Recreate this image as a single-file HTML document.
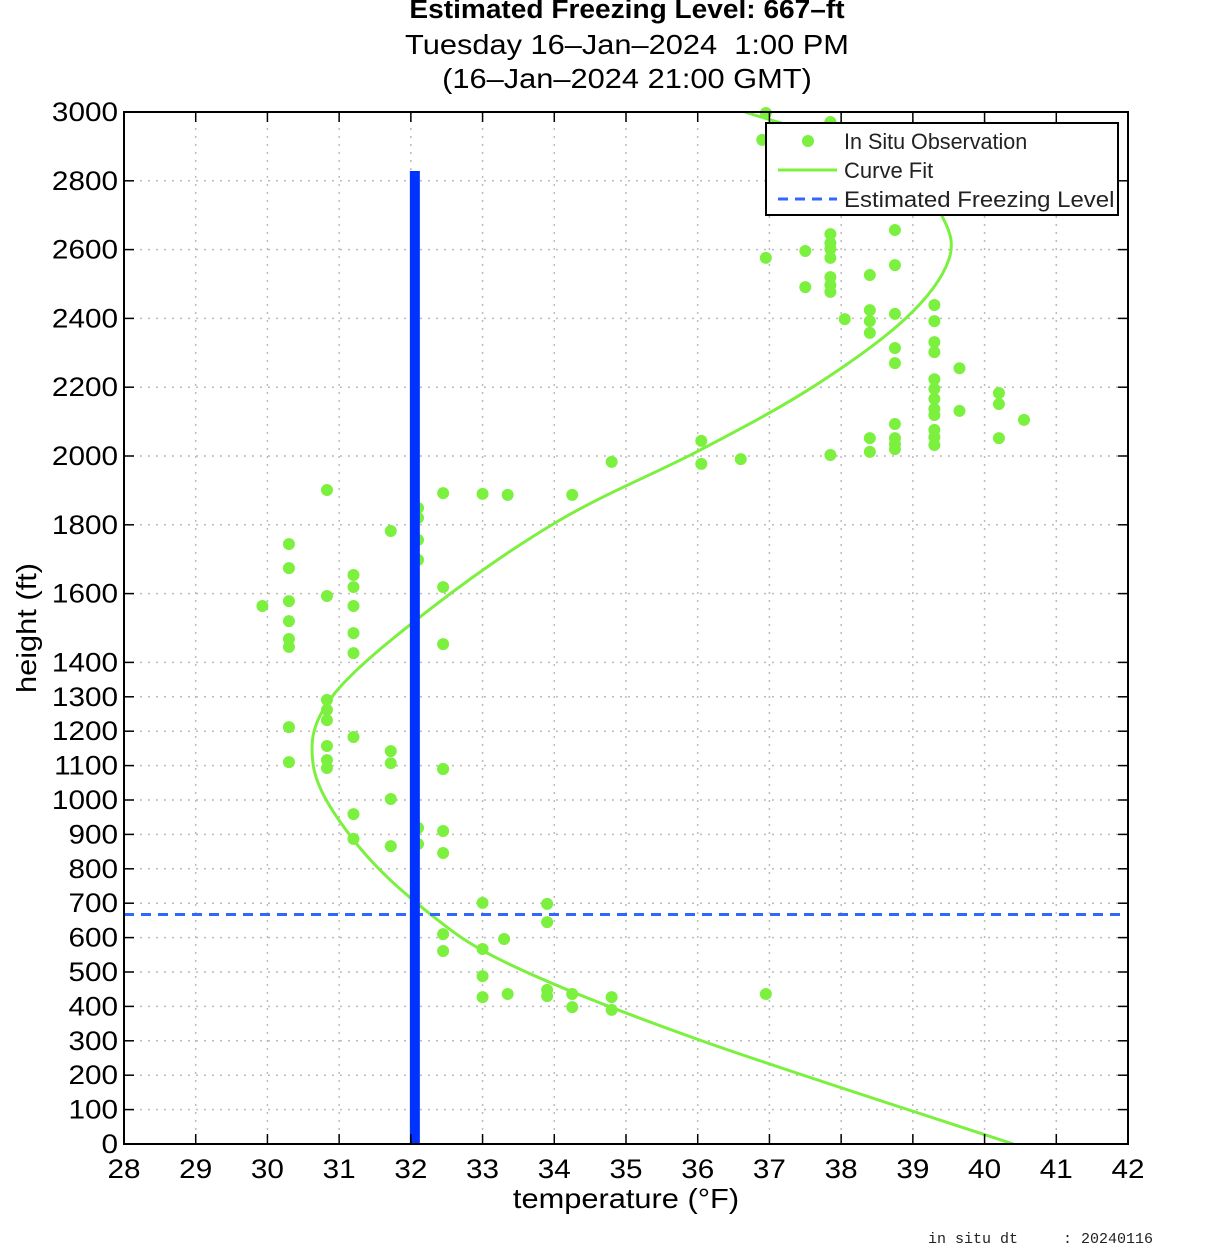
<!DOCTYPE html>
<html><head><meta charset="utf-8">
<style>
html,body{margin:0;padding:0;background:#fff;}
svg{display:block;font-family:"Liberation Sans",Arial,sans-serif;}
</style></head>
<body>
<svg id="chart" width="1214" height="1248" viewBox="0 0 1214 1248" xmlns="http://www.w3.org/2000/svg">
<g id="grid"></g>
<g id="series"></g>
<g id="axes"></g>
<text x="627" y="18" text-anchor="middle" font-size="26" font-weight="bold" transform="translate(627 0) scale(1.08 1) translate(-627 0)">Estimated Freezing Level: 667–ft</text>
<text x="627" y="54" text-anchor="middle" font-size="28" style="white-space:pre" transform="translate(627 0) scale(1.1 1) translate(-627 0)">Tuesday 16–Jan–2024  1:00 PM</text>
<text x="627" y="88" text-anchor="middle" font-size="28" transform="translate(627 0) scale(1.1 1) translate(-627 0)">(16–Jan–2024 21:00 GMT)</text>
<text x="626" y="1208" text-anchor="middle" font-size="28" transform="translate(626 0) scale(1.1 1) translate(-626 0)">temperature (°F)</text>
<text x="0" y="0" text-anchor="middle" font-size="28" transform="translate(36 628) rotate(-90) scale(1.1 1)">height (ft)</text>
<text x="928" y="1243" font-size="15" font-family="Liberation Mono, monospace" fill="#222" style="white-space:pre">in situ dt     : 20240116</text>
<g id="legend">
  <rect x="766" y="123" width="352" height="92" fill="#fff" stroke="#000" stroke-width="2"/>
  <g>
    <circle cx="808" cy="141" r="6" fill="#7cf03f"/>
    <text x="844" y="149" font-size="22" fill="#222" transform="translate(844 0) scale(0.98 1) translate(-844 0)">In Situ Observation</text>
  </g>
  <g>
    <line x1="778" y1="170" x2="837" y2="170" stroke="#7cf03f" stroke-width="3"/>
    <text x="844" y="178" font-size="22" fill="#222">Curve Fit</text>
  </g>
  <g>
    <line x1="778" y1="199" x2="837" y2="199" stroke="#3366ff" stroke-width="3" stroke-dasharray="10,7"/>
    <text x="844" y="207" font-size="22" fill="#222" transform="translate(844 0) scale(1.09 1) translate(-844 0)">Estimated Freezing Level</text>
  </g>
</g>
</svg>
<script>
const xTicks = [28,29,30,31,32,33,34,35,36,37,38,39,40,41,42];
const yTicks = [0,100,200,300,400,500,600,700,800,900,1000,1100,1200,1300,1400,1600,1800,2000,2200,2400,2600,2800,3000];
const freezingLevel = 667;
const freezeTemp = 32;
const obsTemp = [36.95,36.9,37.85,38.75,37.85,37.85,37.85,37.85,37.5,36.95,37.5,37.85,37.85,37.85,38.4,38.75,38.05,38.4,38.4,38.4,38.75,38.75,38.75,39.3,39.3,39.3,39.3,39.65,39.3,39.3,39.3,39.3,39.3,39.3,39.3,39.3,40.2,40.2,39.65,40.55,40.2,38.75,38.75,38.75,38.75,38.4,38.4,37.85,36.6,36.05,36.05,34.8,34.25,33.35,33.0,32.45,
30.83,30.3,30.3,30.3,30.3,30.3,30.3,29.93,30.83,31.2,31.2,31.2,31.2,31.2,31.72,32.1,32.1,32.1,32.1,32.45,32.45,30.83,30.83,30.83,30.83,30.83,30.83,30.3,30.3,31.2,31.72,31.72,32.45,31.72,
31.2,31.2,31.72,32.1,32.1,32.45,32.45,32.45,33.0,33.9,33.9,33.3,32.45,32.45,33.0,33.0,33.0,33.35,33.9,33.9,34.25,34.25,34.8,34.8,36.95];
const obsHeight = [2997,2919,2971,2657,2645,2619,2602,2576,2596,2576,2491,2520,2497,2477,2526,2555,2398,2424,2392,2358,2413,2314,2270,2439,2392,2331,2302,2255,2223,2195,2166,2137,2119,2076,2055,2032,2183,2151,2131,2105,2052,2093,2052,2035,2020,2052,2012,2003,1991,2044,1977,1983,1887,1887,1890,1892,
1901,1744,1674,1578,1520,1468,1445,1564,1593,1654,1619,1564,1485,1427,1782,1849,1820,1756,1698,1619,1453,1291,1262,1232,1157,1116,1093,1212,1110,1183,1142,1107,1090,1003,
959,887,866,919,872,1090,910,846,701,698,645,596,610,561,567,488,427,436,448,430,436,398,427,390,436];
const fitTemp = [40.4,36.03,33.4,32.2,31.2,30.64,30.9,32.3,34.08,36.03,37.6,38.9,39.5,39.4,38.8,36.66];
const fitHeight = [0,302,520,680,884,1100,1300,1560,1814,2017,2200,2400,2570,2700,2850,3000];

const X0=124,X1=1128,Y0=1144,Y1=112;
const xs = t => X0 + (t-28)/(42-28)*(X1-X0);
const ys = h => Y0 - h/3000*(Y0-Y1);
const NS="http://www.w3.org/2000/svg";
function mk(tag, attrs, parent){const e=document.createElementNS(NS,tag);for(const k in attrs)e.setAttribute(k,attrs[k]);parent.appendChild(e);return e;}
const grid=document.getElementById('grid'), series=document.getElementById('series'), axes=document.getElementById('axes');

xTicks.forEach(t=>{
  const x=xs(t);
  if(t>28&&t<42){
    const g=mk('line',{x1:x,y1:Y1,x2:x,y2:Y0,stroke:'#bbb','stroke-width':1.5,'stroke-dasharray':'2,6'},grid);
    
    
  }
  mk('line',{x1:x,y1:Y0,x2:x,y2:Y0-10,stroke:'#000','stroke-width':1.5},axes);
  mk('line',{x1:x,y1:Y1,x2:x,y2:Y1+10,stroke:'#000','stroke-width':1.5},axes);
  const lb=mk('text',{x:x,y:Y0+34,'text-anchor':'middle','font-size':27,transform:'translate('+x+' 0) scale(1.1 1) translate('+(-x)+' 0)'},axes);
  lb.textContent=t;
  
  
});
yTicks.forEach(h=>{
  const y=ys(h);
  if(h>0&&h<3000){
    const g=mk('line',{x1:X0,y1:y,x2:X1,y2:y,stroke:'#bbb','stroke-width':1.5,'stroke-dasharray':'2,6'},grid);
    
    
  }
  mk('line',{x1:X0,y1:y,x2:X0+10,y2:y,stroke:'#000','stroke-width':1.5},axes);
  mk('line',{x1:X1,y1:y,x2:X1-10,y2:y,stroke:'#000','stroke-width':1.5},axes);
  const lx=X0-6;
  const lb=mk('text',{x:lx,y:y+9,'text-anchor':'end','font-size':27,transform:'translate('+lx+' 0) scale(1.1 1) translate('+(-lx)+' 0)'},axes);
  lb.textContent=h;
  
  
});
const frame=mk('rect',{x:X0,y:Y1,width:X1-X0,height:Y0-Y1,fill:'none',stroke:'#000','stroke-width':2},axes);



obsTemp.forEach((t,i)=>{
  const c=mk('circle',{cx:xs(t),cy:ys(obsHeight[i]),r:6,fill:'#7cf03f'},series);
  
  
});
const P=fitTemp.map((t,i)=>[xs(t),ys(fitHeight[i])]);
let d='M'+P[0][0]+','+P[0][1];
for(let i=0;i<P.length-1;i++){
  const p0=P[Math.max(0,i-1)],p1=P[i],p2=P[i+1],p3=P[Math.min(P.length-1,i+2)];
  const c1=[p1[0]+(p2[0]-p0[0])/6,p1[1]+(p2[1]-p0[1])/6];
  const c2=[p2[0]-(p3[0]-p1[0])/6,p2[1]-(p3[1]-p1[1])/6];
  d+=' C'+c1+' '+c2+' '+p2;
}
const cv=mk('path',{d:d,fill:'none',stroke:'#7cf03f','stroke-width':3},series);


const fl=mk('line',{x1:X0,y1:ys(freezingLevel),x2:X1,y2:ys(freezingLevel),stroke:'#3366ff','stroke-width':3,'stroke-dasharray':'10,7'},series);


const fz=mk('rect',{x:xs(freezeTemp)-1,y:171,width:10,height:Y0-171,fill:'#0033ff'},series);


document.getElementById('chart').appendChild(document.getElementById('legend'));
</script>
</body></html>
